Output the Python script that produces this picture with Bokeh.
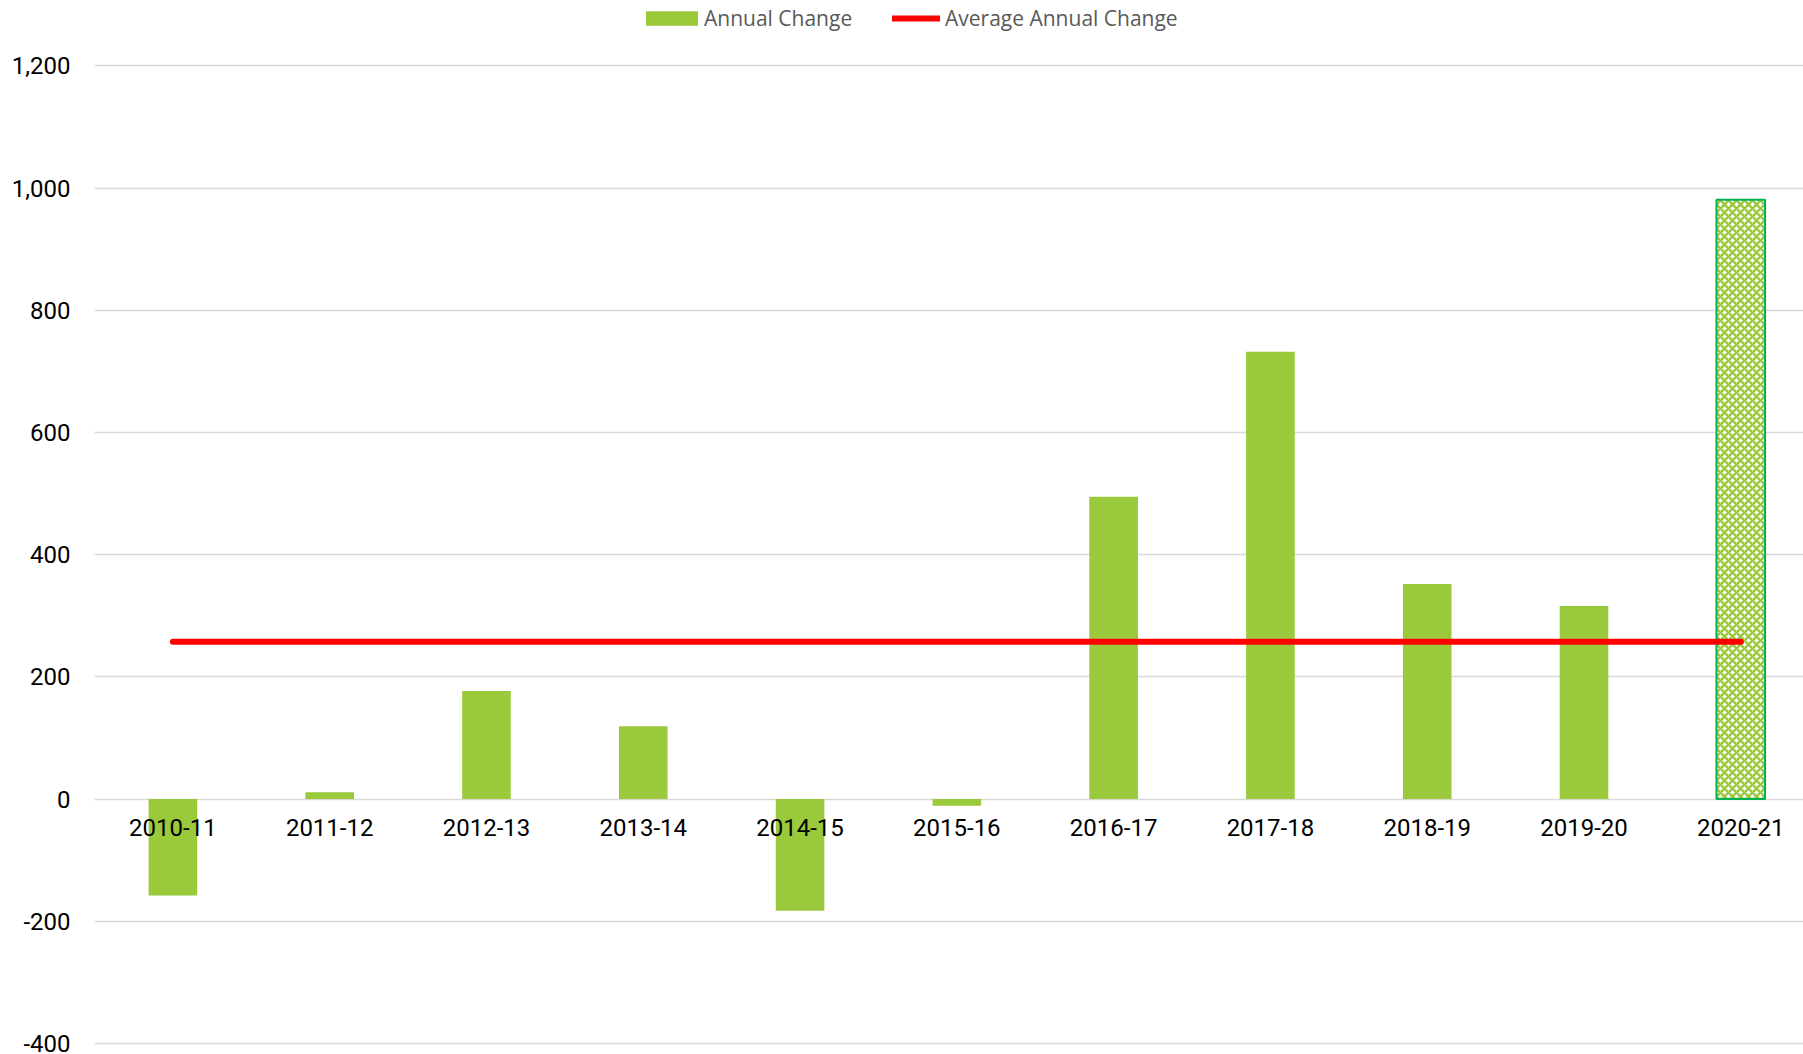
from bokeh.plotting import figure
from bokeh.models import ColumnDataSource, FixedTicker, Legend, LegendItem, NumeralTickFormatter
from bokeh.embed import file_html
from bokeh.resources import INLINE

categories = ["2010-11", "2011-12", "2012-13", "2013-14", "2014-15", "2015-16",
              "2016-17", "2017-18", "2018-19", "2019-20", "2020-21"]
annual_change = [-158, 11, 177, 119, -183, -11, 495, 732, 352, 316, 981]
average_change = sum(annual_change) / len(annual_change)

GREEN = "#9ACA3C"
EDGE = "#00B050"

xs = list(range(len(categories)))
solid_src = ColumnDataSource(dict(x=xs[:-1], top=annual_change[:-1]))
hatch_src = ColumnDataSource(dict(x=xs[-1:], top=annual_change[-1:]))

p = figure(width=1803, height=1054, output_backend="svg", toolbar_location=None,
           x_range=(-0.5, 10.4), y_range=(-405, 1294),
           min_border_left=94, min_border_right=0, min_border_top=8, min_border_bottom=8)
p.outline_line_color = None
p.background_fill_color = "white"

bars = p.vbar(x="x", top="top", bottom=0, width=0.31, source=solid_src,
              fill_color=GREEN, line_color=None)
p.vbar(x="x", top="top", bottom=0, width=0.31, source=hatch_src,
       fill_color="white", line_color=EDGE, line_width=2,
       hatch_pattern="diagonal_cross", hatch_color=GREEN, hatch_scale=8, hatch_weight=2.5)
avg = p.line(x=[xs[0], xs[-1]], y=[average_change, average_change],
             line_color="#FF0000", line_width=6, line_cap="round")

p.yaxis.ticker = FixedTicker(ticks=list(range(-400, 1201, 200)))
p.yaxis.formatter = NumeralTickFormatter(format="0,0")
p.yaxis.axis_line_color = None
p.yaxis.major_tick_line_color = None
p.yaxis.minor_tick_line_color = None
p.yaxis.major_label_standoff = 18
p.yaxis.major_label_text_font = "Roboto"
p.yaxis.major_label_text_font_size = "24px"
p.yaxis.major_label_text_color = "black"

p.xaxis.fixed_location = 0
p.xaxis.ticker = FixedTicker(ticks=xs)
p.xaxis.major_label_overrides = {i: c for i, c in enumerate(categories)}
p.xaxis.axis_line_color = None
p.xaxis.major_tick_line_color = None
p.xaxis.minor_tick_line_color = None
p.xaxis.major_label_standoff = 14
p.xaxis.major_label_text_font = "Roboto"
p.xaxis.major_label_text_font_size = "24px"
p.xaxis.major_label_text_color = "black"

p.xgrid.grid_line_color = None
p.ygrid.ticker = FixedTicker(ticks=list(range(-400, 1201, 200)))
p.ygrid.grid_line_color = "#D9D9D9"
p.ygrid.grid_line_width = 1.5

common = dict(orientation="horizontal", padding=0, margin=0, border_line_color=None,
              background_fill_alpha=0, label_text_font="Open Sans",
              label_text_font_size="21px", label_text_color="#595959")
legend1 = Legend(items=[LegendItem(label="Annual Change", renderers=[bars])],
                 location=(545, 1014), glyph_width=65, glyph_height=18,
                 label_standoff=0, **common)
legend2 = Legend(items=[LegendItem(label="Average Annual Change", renderers=[avg])],
                 location=(798, 1014), glyph_width=48, glyph_height=18,
                 label_standoff=5, **common)
p.add_layout(legend1)
p.add_layout(legend2)

open("out.html", "w").write(file_html(p, INLINE))
